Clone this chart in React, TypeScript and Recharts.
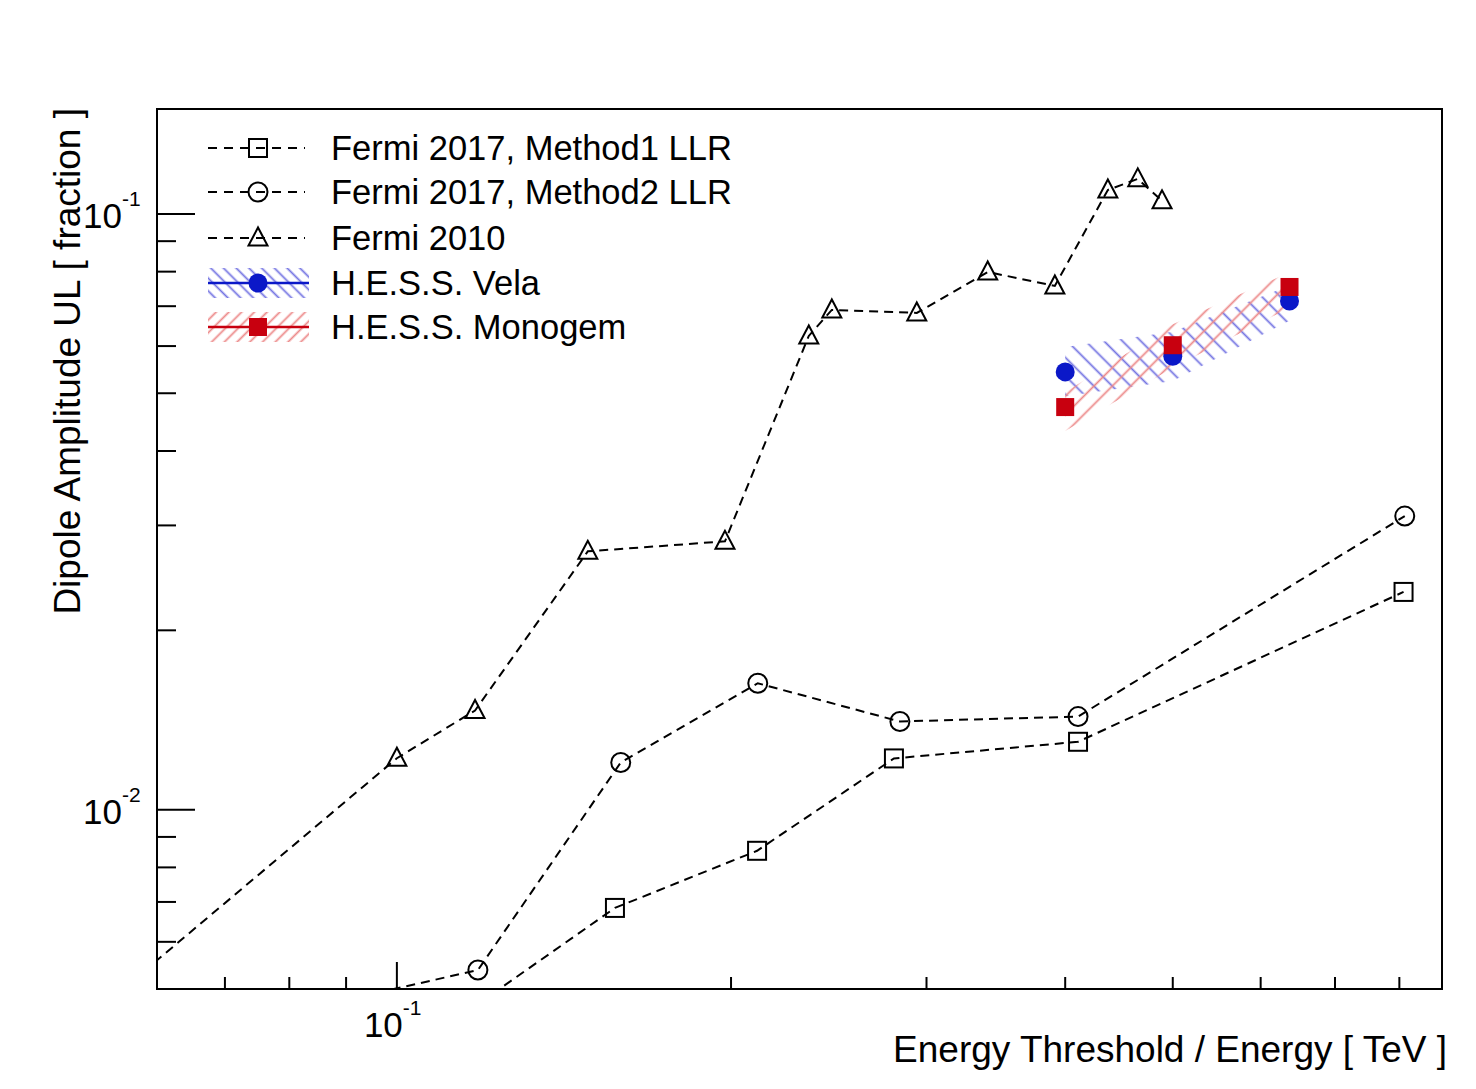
import React from "react";
import { ComposedChart, Line, Area, XAxis, YAxis, ReferenceArea } from "recharts";

// axis ranges (log-log frame)
const X_MIN = 0.0608;
const X_MAX = 0.874;
const Y_MIN = 0.005;
const Y_MAX = 0.15;

const X_TICKS = [0.07, 0.08, 0.09, 0.1, 0.2, 0.3, 0.4, 0.5, 0.6, 0.7, 0.8];
const Y_TICKS = [0.005, 0.006, 0.007, 0.008, 0.009, 0.01, 0.02, 0.03, 0.04, 0.05, 0.06, 0.07, 0.08, 0.09, 0.1];

// Fermi 2017, Method1 LLR (squares)
const M1_X = [0.11, 0.1572, 0.2111, 0.2804, 0.4108, 0.807];
const M1_Y = [0.00429, 0.00684, 0.00853, 0.01219, 0.013, 0.0232];

// Fermi 2017, Method2 LLR (circles)
const M2_X = [0.085, 0.1183, 0.1591, 0.2114, 0.2839, 0.4108, 0.809];
const M2_Y = [0.00468, 0.00538, 0.012, 0.0163, 0.01406, 0.01433, 0.0311];

// Fermi 2010 (triangles)
const F10_X = [0.05, 0.1, 0.1176, 0.1486, 0.1975, 0.235, 0.2465, 0.294, 0.3406, 0.3915, 0.437, 0.465, 0.489];
const F10_Y = [0.00411, 0.0122, 0.01467, 0.02714, 0.02821, 0.0624, 0.069, 0.0682, 0.0799, 0.0757, 0.1097, 0.1145, 0.1052];

// H.E.S.S. points and hatched bands
const HESS_X = [0.4, 0.5, 0.637];
const VELA_Y = [0.0543, 0.0577, 0.0714];
const VELA_LO = [0.0494, 0.0524, 0.0662];
const VELA_HI = [0.0598, 0.0634, 0.0758];
const MONO_Y = [0.0474, 0.0602, 0.0754];
const MONO_LO = [0.0432, 0.0552, 0.0696];
const MONO_HI = [0.0502, 0.0653, 0.0798];

const LEGEND = ["Fermi 2017, Method1 LLR", "Fermi 2017, Method2 LLR", "Fermi 2010", "H.E.S.S. Vela", "H.E.S.S. Monogem"];

const FONT = '"Liberation Sans", Arial, Helvetica, sans-serif';
const BLUE = "#0b18c8";
const RED = "#c8000f";
const BLUE_HATCH = "#7474e2";
const RED_HATCH = "#ec8a8a";

const pts = (xs: number[], ys: number[]) => xs.map((x, i) => ({ x, y: ys[i] }));
const band = (xs: number[], lo: number[], hi: number[]) => xs.map((x, i) => ({ x, band: [lo[i], hi[i]] }));

const m1Data = pts(M1_X, M1_Y);
const m2Data = pts(M2_X, M2_Y);
const f10Data = pts(F10_X, F10_Y);
const velaData = pts(HESS_X, VELA_Y);
const monoData = pts(HESS_X, MONO_Y);
const velaBand = band(HESS_X, VELA_LO, VELA_HI);
const monoBand = band(HESS_X, MONO_LO, MONO_HI);

// markers
const openSquare = (cx: number, cy: number, k?: any) => (
  <rect key={k} x={cx - 9} y={cy - 9} width={18} height={18} fill="none" stroke="#000" strokeWidth={2} />
);
const openCircle = (cx: number, cy: number, k?: any) => (
  <circle key={k} cx={cx} cy={cy} r={9.5} fill="none" stroke="#000" strokeWidth={2} />
);
const openTriangle = (cx: number, cy: number, k?: any) => (
  <polygon key={k} points={`${cx},${cy - 10.5} ${cx - 9.5},${cy + 7.5} ${cx + 9.5},${cy + 7.5}`} fill="none" stroke="#000" strokeWidth={2} strokeLinejoin="miter" />
);
const fullCircle = (cx: number, cy: number, k?: any) => <circle key={k} cx={cx} cy={cy} r={9.5} fill={BLUE} />;
const fullSquare = (cx: number, cy: number, k?: any) => (
  <rect key={k} x={cx - 9} y={cy - 9} width={18} height={18} fill={RED} />
);

const dotOf = (fn: (cx: number, cy: number, k?: any) => React.ReactElement) => (p: any) => {
  if (p.cx == null || p.cy == null || isNaN(p.cx) || isNaN(p.cy)) return <g key={p.index} />;
  return fn(p.cx, p.cy, p.index);
};

const Sup = ({ x, y, base, exp }: any) => (
  <text x={x} y={y} fontFamily={FONT} fontSize={35} fill="#000">
    {base}
    <tspan dy={-22} fontSize={21}>{exp}</tspan>
  </text>
);

const XTick = (props: any) => {
  const { x, y, payload } = props;
  const major = payload.value === 0.1;
  return (
    <g>
      <line x1={x} y1={y} x2={x} y2={y - (major ? 27 : 12)} stroke="#000" strokeWidth={2} />
      {major && <Sup x={x - 33} y={y + 48} base="10" exp="-1" />}
    </g>
  );
};

const YTick = (props: any) => {
  const { x, y, payload } = props;
  const major = payload.value === 0.1 || payload.value === 0.01;
  return (
    <g>
      <line x1={x} y1={y} x2={x + (major ? 38 : 19)} y2={y} stroke="#000" strokeWidth={2} />
      {major && <Sup x={x - 74} y={y + 14} base="10" exp={payload.value === 0.1 ? "-1" : "-2"} />}
    </g>
  );
};

const Hatch = ({ id, color, angle, gap }: any) => (
  <pattern id={id} patternUnits="userSpaceOnUse" width={gap} height={gap} patternTransform={`rotate(${angle})`}>
    <line x1={gap / 2} y1={0} x2={gap / 2} y2={gap} stroke={color} strokeWidth={1.8} />
  </pattern>
);

const LegendOverlay = () => {
  const rows = [148, 192, 238, 283, 327];
  const markers = [openSquare, openCircle, openTriangle, fullCircle, fullSquare];
  return (
    <svg width={1476} height={1089} style={{ position: "absolute", left: 0, top: 0, pointerEvents: "none" }}>
      <defs>
        <Hatch id="legBlue" color={BLUE_HATCH} angle={-45} gap={9} />
        <Hatch id="legRed" color={RED_HATCH} angle={45} gap={9} />
      </defs>
      {LEGEND.map((label, i) => {
        const y = rows[i];
        const hess = i >= 3;
        const col = i === 3 ? BLUE : RED;
        return (
          <g key={label}>
            {hess && <rect x={208} y={y - 15} width={101} height={30} fill={i === 3 ? "url(#legBlue)" : "url(#legRed)"} />}
            {hess ? (
              <line x1={208} y1={y} x2={309} y2={y} stroke={col} strokeWidth={2.5} />
            ) : (
              <line x1={208} y1={y} x2={305} y2={y} stroke="#000" strokeWidth={2} strokeDasharray="9 7" />
            )}
            {markers[i](258, y)}
            <text x={331} y={y + 12} fontFamily={FONT} fontSize={34.5} fill="#000">
              {label}
            </text>
          </g>
        );
      })}
      <text transform="translate(80,108) rotate(-90)" textAnchor="end" fontFamily={FONT} fontSize={37} fill="#000">
        Dipole Amplitude UL [ fraction ]
      </text>
      <text x={1447} y={1062} textAnchor="end" fontFamily={FONT} fontSize={37} fill="#000">
        Energy Threshold / Energy [ TeV ]
      </text>
    </svg>
  );
};

export default function App() {
  return (
    <div style={{ position: "absolute", left: 0, top: 0, width: 1476, height: 1089, background: "#fff" }}>
      <ComposedChart width={1476} height={1089} margin={{ top: 109, right: 34, bottom: 99, left: 156 }}>
        <defs>
          <Hatch id="hatchBlue" color={BLUE_HATCH} angle={-45} gap={13} />
          <Hatch id="hatchRed" color={RED_HATCH} angle={45} gap={13} />
        </defs>
        <XAxis
          dataKey="x"
          type="number"
          scale="log"
          domain={[X_MIN, X_MAX]}
          allowDataOverflow
          ticks={X_TICKS}
          interval={0}
          height={1}
          tickSize={0}
          tickMargin={0}
          axisLine={false}
          tickLine={false}
          tick={<XTick />}
        />
        <YAxis
          type="number"
          scale="log"
          domain={[Y_MIN, Y_MAX]}
          allowDataOverflow
          ticks={Y_TICKS}
          interval={0}
          width={1}
          tickSize={0}
          tickMargin={0}
          axisLine={false}
          tickLine={false}
          tick={<YTick />}
        />
        <Area data={velaBand} dataKey="band" type="linear" stroke="none" fill="url(#hatchBlue)" fillOpacity={1} dot={false} activeDot={false} isAnimationActive={false} />
        <Area data={monoBand} dataKey="band" type="linear" stroke="none" fill="url(#hatchRed)" fillOpacity={1} dot={false} activeDot={false} isAnimationActive={false} />
        <Line data={m1Data} dataKey="y" type="linear" stroke="#000" strokeWidth={2} strokeDasharray="9 6" dot={dotOf(openSquare)} activeDot={false} isAnimationActive={false} />
        <Line data={m2Data} dataKey="y" type="linear" stroke="#000" strokeWidth={2} strokeDasharray="9 6" dot={dotOf(openCircle)} activeDot={false} isAnimationActive={false} />
        <Line data={f10Data} dataKey="y" type="linear" stroke="#000" strokeWidth={2} strokeDasharray="9 6" dot={dotOf(openTriangle)} activeDot={false} isAnimationActive={false} />
        <Line data={velaData} dataKey="y" type="linear" stroke="none" dot={dotOf(fullCircle)} activeDot={false} isAnimationActive={false} />
        <Line data={monoData} dataKey="y" type="linear" stroke="none" dot={dotOf(fullSquare)} activeDot={false} isAnimationActive={false} />
        <ReferenceArea x1={X_MIN} x2={X_MAX} y1={Y_MIN} y2={Y_MAX} fill="none" fillOpacity={0} stroke="#000" strokeWidth={2} />
      </ComposedChart>
      <LegendOverlay />
    </div>
  );
}
